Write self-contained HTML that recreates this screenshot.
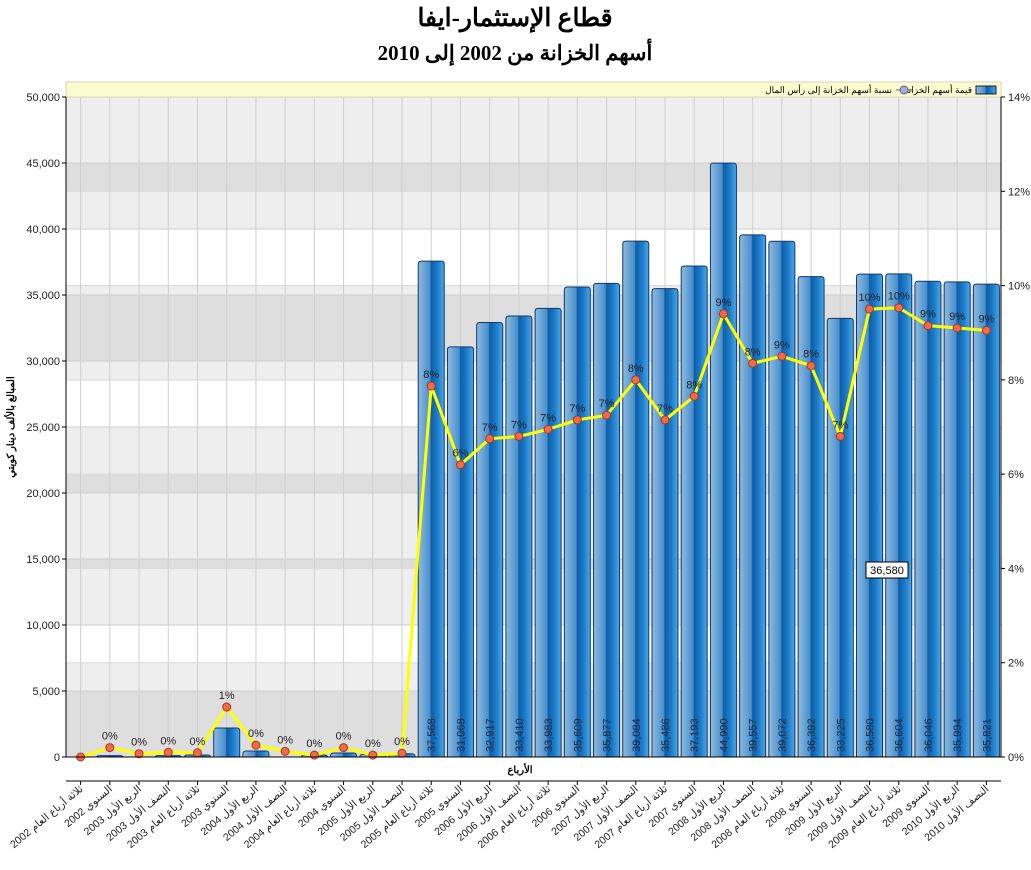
<!DOCTYPE html>
<html><head><meta charset="utf-8"><style>
body{margin:0;background:#fff;}
svg{font-family:"Liberation Sans","Noto Sans CJK SC",sans-serif;}
</style></head><body>
<svg id="chart" width="1031" height="865" xmlns="http://www.w3.org/2000/svg">
<defs>
<linearGradient id="barg" x1="0" x2="1" y1="0" y2="0">
<stop offset="0" stop-color="#8dbbe0"/><stop offset="0.45" stop-color="#4a8fcc"/>
<stop offset="0.5" stop-color="#0d5ea8"/><stop offset="0.75" stop-color="#1f7cc8"/><stop offset="1" stop-color="#4aa8ec"/>
</linearGradient>
</defs>
<text x="515" y="26" text-anchor="middle" font-size="25" font-weight="bold" font-family="'Liberation Serif','Noto Serif CJK SC',serif">قطاع الإستثمار-ايفا</text>
<text x="515" y="60" text-anchor="middle" font-size="21" font-weight="bold" font-family="'Liberation Serif','Noto Serif CJK SC',serif">أسهم الخزانة من 2002 إلى 2010</text>
<g id="bands"></g><g id="grid"></g>
<rect x="66" y="82" width="935" height="15" fill="#fdfbd0" stroke="#d8d6a8"/>
<g>
<rect x="976" y="86" width="20" height="8" fill="url(#barg)" stroke="#123"/>
<text x="972" y="93" text-anchor="end" font-size="9">قيمة أسهم الخزانة</text>
<line x1="896" y1="90" x2="912" y2="90" stroke="#666"/><circle cx="904" cy="90" r="4" fill="#a8a8f0" stroke="#666"/>
<text x="892" y="93" text-anchor="end" font-size="9">نسبة أسهم الخزانة إلى رأس المال</text>
</g>
<g id="bars"></g><g id="line"></g><g id="axes"></g>
<text transform="translate(14,427) rotate(-90)" text-anchor="middle" font-size="10" font-weight="bold">المبالغ بالألف دينار كويتي</text>
<text x="520" y="773" text-anchor="middle" font-size="10" font-weight="bold">الأرباع</text>
<g><rect x="866" y="562" width="42" height="16" fill="#fff" stroke="#000"/><text x="887" y="574" text-anchor="middle" font-size="11">36,580</text></g>
</svg>
<script>
const categories=["ثلاثة أرباع العام 2002","السنوي 2002","الربع الأول 2003","النصف الأول 2003","ثلاثة أرباع العام 2003","السنوي 2003","الربع الأول 2004","النصف الأول 2004","ثلاثة أرباع العام 2004","السنوي 2004","الربع الأول 2005","النصف الأول 2005","ثلاثة أرباع العام 2005","السنوي 2005","الربع الأول 2006","النصف الأول 2006","ثلاثة أرباع العام 2006","السنوي 2006","الربع الأول 2007","النصف الأول 2007","ثلاثة أرباع العام 2007","السنوي 2007","الربع الأول 2008","النصف الأول 2008","ثلاثة أرباع العام 2008","السنوي 2008","الربع الأول 2009","النصف الأول 2009","ثلاثة أرباع العام 2009","السنوي 2009","الربع الأول 2010","النصف الأول 2010"];
const barValues=[0,100,0,100,150,2200,450,0,150,300,200,250,37568,31068,32917,33410,33983,35609,35877,39084,35486,37193,44990,39557,39072,36392,33225,36580,36604,36046,35994,35821];
const pctValues=[0,0.2,0.07,0.1,0.09,1.06,0.25,0.12,0.04,0.2,0.04,0.08,7.87,6.2,6.75,6.8,6.95,7.15,7.25,8.0,7.15,7.65,9.4,8.35,8.5,8.3,6.8,9.5,9.53,9.15,9.1,9.05];
const leftTicks=[0,5000,10000,15000,20000,25000,30000,35000,40000,45000,50000];
const rightTicks=[0,2,4,6,8,10,12,14];
const NS="http://www.w3.org/2000/svg";
const X0=66,X1=1001,Y0=757,Y1=97;
const cw=(X1-X0)/categories.length;
const xc=i=>X0+cw*(i+0.5);
const yL=v=>Y0-(Y0-Y1)*v/50000;
const yR=p=>Y0-(Y0-Y1)*p/14;
function mk(tag,attrs,parent,txt){const e=document.createElementNS(NS,tag);for(const k in attrs)e.setAttribute(k,attrs[k]);if(txt!==undefined)e.textContent=txt;parent.appendChild(e);return e;}
const fmt=v=>v.toLocaleString('en-US');
const bands=document.getElementById('bands'),grid=document.getElementById('grid'),bars=document.getElementById('bars'),line=document.getElementById('line'),axes=document.getElementById('axes');
mk('rect',{x:X0,y:Y1,width:X1-X0,height:Y0-Y1,fill:'#fff'},bands);
for(let v=0;v<50000;v+=10000){const r=mk('rect',{x:X0,y:yL(v+5000),width:X1-X0,height:yL(v)-yL(v+5000),fill:'rgba(0,0,0,0.065)'},bands);}
for(let p=0;p<14;p+=4){const r=mk('rect',{x:X0,y:yR(p+2),width:X1-X0,height:yR(p)-yR(p+2),fill:'rgba(0,0,0,0.065)'},bands);}
leftTicks.forEach(v=>{mk('line',{x1:X0,x2:X1,y1:yL(v),y2:yL(v),stroke:'#cfcfcf'},grid);});
rightTicks.forEach(p=>{mk('line',{x1:X0,x2:X1,y1:yR(p),y2:yR(p),stroke:'#d8d8d8'},grid);});
categories.forEach((c,i)=>{mk('line',{x1:xc(i),x2:xc(i),y1:Y1,y2:Y0,stroke:'#cfcfcf'},grid);});
barValues.forEach((v,i)=>{
 const g=mk('g',{},bars);
 
 
 const w=26,x=xc(i)-w/2,y=yL(v),h=Y0-y;
 if(h>0.5){mk('path',{d:`M${x},${Y0}V${y+Math.min(3,h)}Q${x},${y} ${x+3},${y}H${x+w-3}Q${x+w},${y} ${x+w},${y+Math.min(3,h)}V${Y0}Z`,fill:'url(#barg)',stroke:'#123a66','stroke-width':1},g);}
 if(v>=10000){const t=mk('text',{transform:`translate(${xc(i)+4},${Y0-5}) rotate(-90)`,'font-size':11,fill:'#1a2438'},g,fmt(v));}
});
const pts=pctValues.map((p,i)=>xc(i)+','+yR(p)).join(' ');
const pl=mk('polyline',{points:pts,fill:'none',stroke:'#ffff00','stroke-width':3,'stroke-linejoin':'round'},line);


pctValues.forEach((p,i)=>{
 const c=mk('circle',{cx:xc(i),cy:yR(p),r:4,fill:'#f26a4a',stroke:'#a03a20'},line);
 
 
 if(i>0){const t=mk('text',{x:xc(i),y:yR(p)-8,'text-anchor':'middle','font-size':11,fill:'#222'},line,Math.round(p)+'%');}
});
mk('line',{x1:X0,x2:X0,y1:Y1,y2:Y0,stroke:'#000'},axes);
mk('line',{x1:X1,x2:X1,y1:Y1,y2:Y0,stroke:'#000'},axes);
mk('line',{x1:X0,x2:X1,y1:Y0,y2:Y0,stroke:'#000'},axes);
mk('line',{x1:X0,x2:X1,y1:781,y2:781,stroke:'#000'},axes);
leftTicks.forEach(v=>{mk('line',{x1:X0-4,x2:X0,y1:yL(v),y2:yL(v),stroke:'#000'},axes);const t=mk('text',{x:X0-6,y:yL(v)+4,'text-anchor':'end','font-size':11,fill:'#222'},axes,fmt(v));});
rightTicks.forEach(p=>{mk('line',{x1:X1,x2:X1+4,y1:yR(p),y2:yR(p),stroke:'#000'},axes);const t=mk('text',{x:X1+7,y:yR(p)+4,'font-size':11,fill:'#222'},axes,p+'%');});
categories.forEach((c,i)=>{mk('line',{x1:xc(i),x2:xc(i),y1:781,y2:785,stroke:'#000'},axes);const t=mk('text',{transform:`translate(${xc(i)+3},${790}) rotate(-40)`,'text-anchor':'end','font-size':10.5,fill:'#222'},axes,c);});
</script>
</body></html>
